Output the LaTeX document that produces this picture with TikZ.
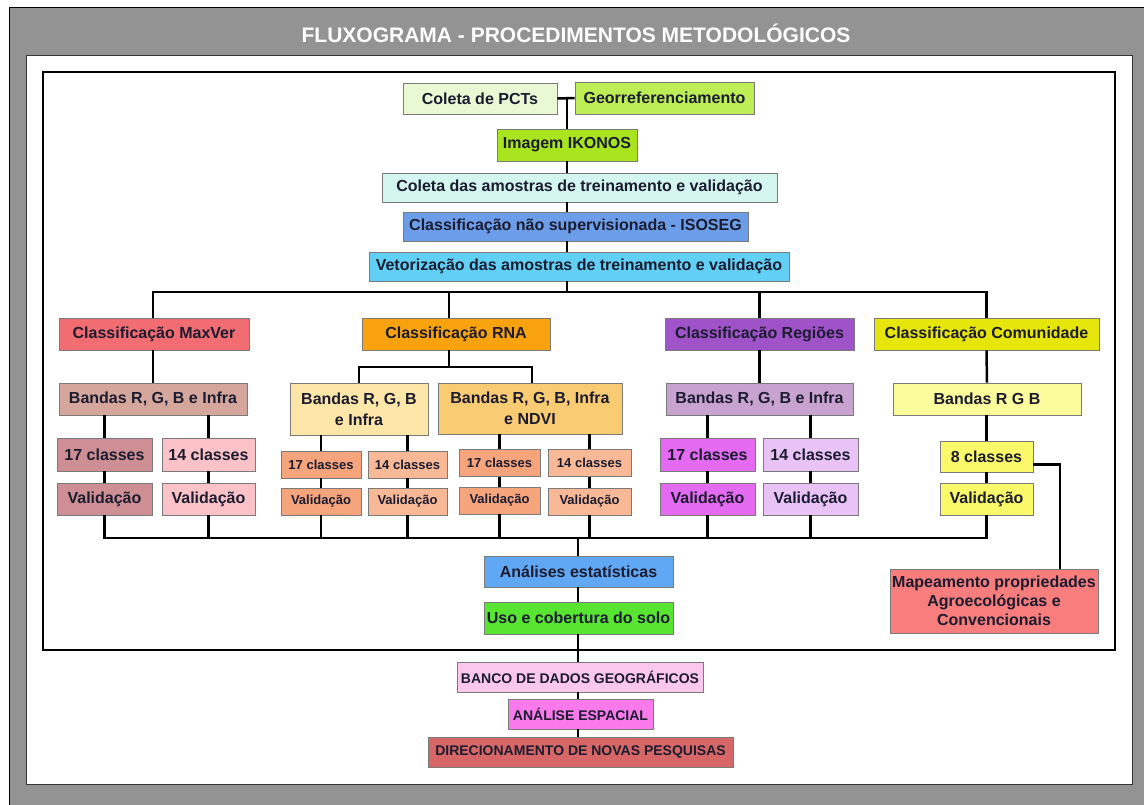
\documentclass[tikz,border=0pt]{standalone}
\usepackage{fontspec}
\setmainfont{Liberation Sans}
\usepackage{tikz}
\usetikzlibrary{calc,positioning}

\definecolor{fundo}{HTML}{939393}
\definecolor{tinta}{HTML}{1C1C30}
\definecolor{borda}{HTML}{7A7A7A}
\definecolor{corColeta}{HTML}{E9F9D3}
\definecolor{corGeoref}{HTML}{BDEE56}
\definecolor{corIkonos}{HTML}{A9E51F}
\definecolor{corAmostras}{HTML}{D3F6EF}
\definecolor{corIsoseg}{HTML}{6C9DE8}
\definecolor{corVetor}{HTML}{62CFF4}
\definecolor{corMaxver}{HTML}{F26D72}
\definecolor{corRna}{HTML}{F8A30E}
\definecolor{corRegioes}{HTML}{A052C8}
\definecolor{corComunid}{HTML}{E6E60A}
\definecolor{corBMaxver}{HTML}{D4A69C}
\definecolor{corBRgbi}{HTML}{FDE7A8}
\definecolor{corBNdvi}{HTML}{F9CB72}
\definecolor{corBRegioes}{HTML}{C9A3D0}
\definecolor{corBRgb}{HTML}{FBFB9B}
\definecolor{corM17}{HTML}{CD8F93}
\definecolor{corM14}{HTML}{FBC3C7}
\definecolor{corN17}{HTML}{F6A47C}
\definecolor{corN14}{HTML}{FAB996}
\definecolor{corR17}{HTML}{E36AF1}
\definecolor{corR14}{HTML}{E9C3F6}
\definecolor{corC8}{HTML}{F9F96A}
\definecolor{corAnalises}{HTML}{61A8F4}
\definecolor{corUso}{HTML}{58E532}
\definecolor{corMapeam}{HTML}{F87D7D}
\definecolor{corBanco}{HTML}{FCC7EC}
\definecolor{corEspacial}{HTML}{FA7AEC}
\definecolor{corDirec}{HTML}{D76666}

\begin{document}
\begin{tikzpicture}[x=1pt,y=-1pt,
    caixa/.style={draw=borda,line width=0.8pt,inner sep=0pt,text=tinta,align=center,
      font=\bfseries\fontsize{16}{19}\selectfont},
    duas/.style={caixa,font=\bfseries\fontsize{16}{21}\selectfont},
    peq/.style={caixa,font=\bfseries\fontsize{13}{15}\selectfont},
    maiusc/.style={caixa,font=\bfseries\fontsize{14}{16}\selectfont},
    liga/.style={line width=2.5pt,black}]
    \useasboundingbox (0,0) rectangle (1144,805);
    % Moldura
    \draw[fill=fundo,line width=1pt] (9,8) rectangle (1150,810);
    \draw[fill=white,draw=black!80,line width=1pt] (26,56) rectangle (1132,784);
    \draw[line width=2.5pt] (43,72) rectangle (1115,650);
    \node[text=white,font=\bfseries\fontsize{21}{25}\selectfont] (titulo) at (576,33)
        {FLUXOGRAMA - PROCEDIMENTOS METODOL\'OGICOS};

    % Etapas iniciais
    \node[caixa,fill=corColeta,minimum width=154,minimum height=31] (coleta) at (480,98.5) {Coleta de PCTs};
    \node[caixa,fill=corGeoref,minimum width=179,minimum height=32] (georef) at (664.5,98) {Georreferenciamento};
    \node[caixa,fill=corIkonos,minimum width=140,minimum height=32] (ikonos) at (567,145) {Imagem IKONOS};
    \node[caixa,fill=corAmostras,minimum width=395,minimum height=29] (amostras) at (579.5,187.5) {Coleta das amostras de treinamento e valida\c{c}\~ao};
    \node[caixa,fill=corIsoseg,minimum width=345,minimum height=29] (isoseg) at (575.5,226.5) {Classifica\c{c}\~ao n\~ao supervisionada - ISOSEG};
    \node[caixa,fill=corVetor,minimum width=420,minimum height=29] (vetor) at (579,266.5) {Vetoriza\c{c}\~ao das amostras de treinamento e valida\c{c}\~ao};
    \coordinate (ramo) at (567,292);

    % Classificadores
    \node[caixa,fill=corMaxver,minimum width=190,minimum height=32] (maxver) at (154,334) {Classifica\c{c}\~ao MaxVer};
    \node[caixa,fill=corRna,minimum width=188,minimum height=32] (rna) at (456,334) {Classifica\c{c}\~ao RNA};
    \node[caixa,fill=corRegioes,minimum width=189,minimum height=32] (regioes) at (759.5,334) {Classifica\c{c}\~ao Regi\~oes};
    \node[caixa,fill=corComunid,minimum width=225,minimum height=32] (comunid) at (986.5,334) {Classifica\c{c}\~ao Comunidade};

    % Bandas
    \node[caixa,fill=corBMaxver,minimum width=188,minimum height=32] (bmaxver) at (153,399) {Bandas R, G, B e Infra};
    \node[duas,fill=corBRgbi,minimum width=138,minimum height=52] (brgbi) at (359,409) {Bandas R, G, B\\e Infra};
    \node[duas,fill=corBNdvi,minimum width=184,minimum height=51] (bndvi) at (530,408.5) {Bandas R, G, B, Infra\\e NDVI};
    \node[caixa,fill=corBRegioes,minimum width=187,minimum height=32] (bregioes) at (759.5,399) {Bandas R, G, B e Infra};
    \node[caixa,fill=corBRgb,minimum width=188,minimum height=32] (brgb) at (987,399) {Bandas R G B};
    \coordinate (rnasplit) at (449,367);

    % Classes
    \node[caixa,fill=corM17,minimum width=95,minimum height=33] (m17) at (104.5,454.5) {17 classes};
    \node[caixa,fill=corM14,minimum width=93,minimum height=33] (m14) at (208.5,454.5) {14 classes};
    \node[peq,fill=corN17,minimum width=80,minimum height=27] (n17a) at (321,464.5) {17 classes};
    \node[peq,fill=corN14,minimum width=79,minimum height=27] (n14a) at (407.5,464.5) {14 classes};
    \node[peq,fill=corN17,minimum width=81,minimum height=27] (n17b) at (499.5,463) {17 classes};
    \node[peq,fill=corN14,minimum width=83,minimum height=27] (n14b) at (589.5,463) {14 classes};
    \node[caixa,fill=corR17,minimum width=95,minimum height=33] (r17) at (707.5,454.5) {17 classes};
    \node[caixa,fill=corR14,minimum width=95,minimum height=33] (r14) at (810.5,454.5) {14 classes};
    \node[caixa,fill=corC8,minimum width=93,minimum height=31] (c8) at (986.5,456.5) {8 classes};

    % Validacao
    \node[caixa,fill=corM17,minimum width=95,minimum height=32] (mv17) at (104.5,499) {Valida\c{c}\~ao};
    \node[caixa,fill=corM14,minimum width=93,minimum height=32] (mv14) at (208.5,499) {Valida\c{c}\~ao};
    \node[peq,fill=corN17,minimum width=80,minimum height=27] (nv17a) at (321,501.5) {Valida\c{c}\~ao};
    \node[peq,fill=corN14,minimum width=79,minimum height=27] (nv14a) at (407.5,501.5) {Valida\c{c}\~ao};
    \node[peq,fill=corN17,minimum width=81,minimum height=27] (nv17b) at (499.5,500.5) {Valida\c{c}\~ao};
    \node[peq,fill=corN14,minimum width=83,minimum height=27] (nv14b) at (589.5,501.5) {Valida\c{c}\~ao};
    \node[caixa,fill=corR17,minimum width=95,minimum height=32] (rv17) at (707.5,499) {Valida\c{c}\~ao};
    \node[caixa,fill=corR14,minimum width=95,minimum height=32] (rv14) at (810.5,499) {Valida\c{c}\~ao};
    \node[caixa,fill=corC8,minimum width=93,minimum height=32] (cv8) at (986.5,499) {Valida\c{c}\~ao};
    \coordinate (junta) at (578,538);

    % Resultados
    \node[caixa,fill=corAnalises,minimum width=189,minimum height=31] (analises) at (578.5,571.5) {An\'alises estat\'isticas};
    \node[caixa,fill=corUso,minimum width=189,minimum height=32] (uso) at (578.5,618) {Uso e cobertura do solo};
    \node[caixa,fill=corMapeam,minimum width=208,minimum height=64] (mapeam) at (994,601) {Mapeamento propriedades\\Agroecol\'ogicas e\\Convencionais};
    \node[maiusc,fill=corBanco,minimum width=246,minimum height=30] (banco) at (580,677) {BANCO DE DADOS GEOGR\'AFICOS};
    \node[maiusc,fill=corEspacial,minimum width=145,minimum height=30] (espacial) at (580.5,714) {AN\'ALISE ESPACIAL};
    \node[maiusc,fill=corDirec,minimum width=305,minimum height=30] (direc) at (580.5,752) {DIRECIONAMENTO DE NOVAS PESQUISAS};

    % Ligacoes do topo
    \draw[liga] (coleta.east) -- (georef.west);
    \draw[liga] (coleta.east -| ikonos.north) -- (ikonos.north);
    \draw[liga] (ikonos.south) -- (amostras.north -| ikonos);
    \draw[liga] (amostras.south -| ikonos) -- (isoseg.north -| ikonos);
    \draw[liga] (isoseg.south -| ikonos) -- (vetor.north -| ikonos);
    \draw[liga] (vetor.south -| ikonos) -- (ramo);
    \draw[liga] ([xshift=-1pt]maxver.north) |- (ramo) -| (comunid.north);
    \draw[liga] ([xshift=-7pt]rna.north) -- ([xshift=-7pt]rna.north |- ramo);
    \draw[liga] (regioes.north) -- (regioes.north |- ramo);

    % Ligacoes dos classificadores
    \draw[liga] ([xshift=-1pt]maxver.south) -- (bmaxver.north);
    \draw[liga] ([xshift=-7pt]rna.south) -- (rnasplit);
    \draw[liga] (brgbi.north) |- (rnasplit) -| ([xshift=2pt]bndvi.north);
    \draw[liga] (regioes.south) -- (bregioes.north);
    \draw[liga] (comunid.south) -- (brgb.north);
    \draw[liga] (m17.north) -- (m17.north |- bmaxver.south);
    \draw[liga] (m14.north) -- (m14.north |- bmaxver.south);
    \draw[liga] (n17a.north) -- (n17a.north |- brgbi.south);
    \draw[liga] (n14a.north) -- (n14a.north |- brgbi.south);
    \draw[liga] (n17b.north) -- (n17b.north |- bndvi.south);
    \draw[liga] (n14b.north) -- (n14b.north |- bndvi.south);
    \draw[liga] (r17.north) -- (r17.north |- bregioes.south);
    \draw[liga] (r14.north) -- (r14.north |- bregioes.south);
    \draw[liga] (c8.north) -- (c8.north |- brgb.south);
    \foreach \a/\b in {m17/mv17,m14/mv14,n17a/nv17a,n14a/nv14a,n17b/nv17b,n14b/nv14b,r17/rv17,r14/rv14,c8/cv8}
        \draw[liga] (\a.south) -- (\b.north);
    \draw[liga] ([yshift=-8pt]c8.east) -| ([xshift=66pt]mapeam.north);

    % Ligacoes finais
    \draw[liga] (mv17.south) |- (junta) -| (cv8.south);
    \foreach \n in {mv14,nv17a,nv14a,nv17b,nv14b,rv17,rv14}
        \draw[liga] (\n.south) -- (\n.south |- junta);
    \draw[liga] (junta) -- (analises.north -| junta);
    \draw[liga] (analises.south -| junta) -- (uso.north -| junta);
    \draw[liga] (uso.south -| junta) -- (banco.north -| junta);
    \draw[liga] (banco.south -| junta) -- (espacial.north -| junta);
    \draw[liga] (espacial.south -| junta) -- (direc.north -| junta);
\end{tikzpicture}
\end{document}
